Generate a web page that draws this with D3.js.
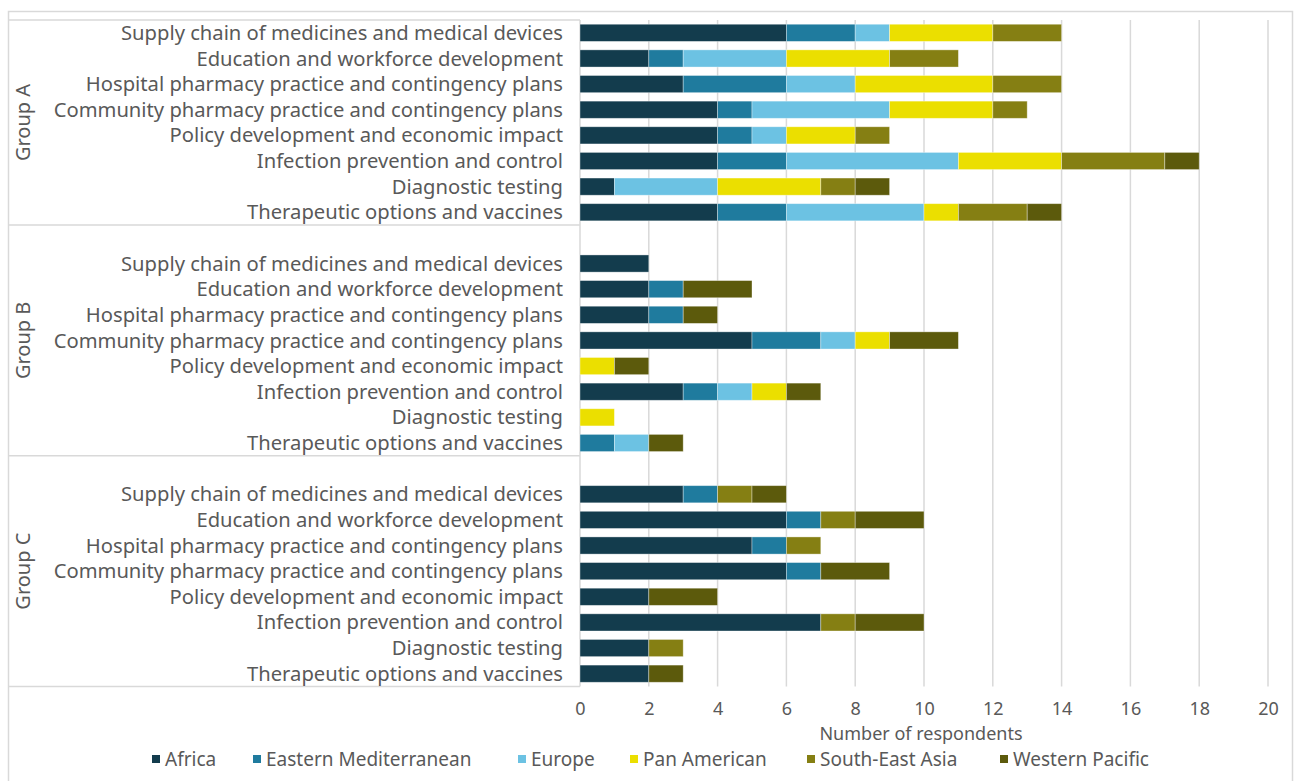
<!DOCTYPE html>
<html>
<head>
<meta charset="utf-8">
<script src="https://cdn.jsdelivr.net/npm/d3@7"></script>
<style>
  html, body { margin: 0; padding: 0; background: #fff; }
  svg text { font-family: "Liberation Sans Narrow", "Arial Narrow", "Noto Sans", sans-serif; fill: #595959; }
</style>
</head>
<body>
<svg id="chart" width="1294" height="781"></svg>
<script>
// ---------- DATA ----------
const groups = ["Group A", "Group B", "Group C"];
const topics = [
  "Supply chain of medicines and medical devices",
  "Education and workforce development",
  "Hospital pharmacy practice and contingency plans",
  "Community pharmacy practice and contingency plans",
  "Policy development and economic impact",
  "Infection prevention and control",
  "Diagnostic testing",
  "Therapeutic options and vaccines"
];
const regions = ["Africa", "Eastern Mediterranean", "Europe", "Pan American", "South-East Asia", "Western Pacific"];
const regionColors = ["#133c4d", "#1f7b9e", "#6cc2e3", "#ebdf00", "#857f13", "#5c5a0c"];

// values per topic: [Africa, Eastern Med, Europe, Pan American, SE Asia, Western Pacific]
const groupA = [
  [6, 2, 1, 3, 2, 0],
  [2, 1, 3, 3, 2, 0],
  [3, 3, 2, 4, 2, 0],
  [4, 1, 4, 3, 1, 0],
  [4, 1, 1, 2, 1, 0],
  [4, 2, 5, 3, 3, 1],
  [1, 0, 3, 3, 1, 1],
  [4, 2, 4, 1, 2, 1]
];
const groupB = [
  [2, 0, 0, 0, 0, 0],
  [2, 1, 0, 0, 0, 2],
  [2, 1, 0, 0, 0, 1],
  [5, 2, 1, 1, 0, 2],
  [0, 0, 0, 1, 0, 1],
  [3, 1, 1, 1, 0, 1],
  [0, 0, 0, 1, 0, 0],
  [0, 1, 1, 0, 0, 1]
];
const groupC = [
  [3, 1, 0, 0, 1, 1],
  [6, 1, 0, 0, 1, 2],
  [5, 1, 0, 0, 1, 0],
  [6, 1, 0, 0, 0, 2],
  [2, 0, 0, 0, 0, 2],
  [7, 0, 0, 0, 1, 2],
  [2, 0, 0, 0, 1, 0],
  [2, 0, 0, 0, 0, 1]
];
const xTicks = [0, 2, 4, 6, 8, 10, 12, 14, 16, 18, 20];
const xTitle = "Number of respondents";

// ---------- BUILD ----------
const groupValues = [groupA, groupB, groupC];
const rows = []; // slots including blank separators
groups.forEach((g, gi) => {
  if (gi > 0) rows.push({ key: g + "|blank", group: g, blank: true });
  topics.forEach((t, ti) => {
    const vals = groupValues[gi][ti];
    const r = { key: g + "|" + t, group: g, topic: t, blank: false };
    regions.forEach((reg, ri) => r[reg] = vals[ri]);
    rows.push(r);
  });
});

const svg = d3.select("#chart");
const plotLeft = 580, plotRight = 1268, plotTop = 20, plotBottom = 686.5;
const grid = "#d9d9d9";

const x = d3.scaleLinear().domain([0, 20]).range([plotLeft, plotRight]);
const y = d3.scaleBand().domain(rows.map(r => r.key)).range([plotTop, plotBottom]).paddingInner(0.33).paddingOuter(0.165);

// outer frame
svg.append("path")
  .attr("d", `M8.5,781 V11.5 H1292.5 V781`)
  .attr("fill", "none").attr("stroke", grid).attr("stroke-width", 1.5);

// gridlines
svg.append("g").selectAll("line").data(xTicks.filter(d => d > 0)).join("line")
  .attr("x1", d => x(d)).attr("x2", d => x(d))
  .attr("y1", plotTop).attr("y2", plotBottom)
  .attr("stroke", grid).attr("stroke-width", 1.5);

// group boxes
const step = y.step();
const groupBounds = groups.map(g => {
  const keys = rows.filter(r => r.group === g);
  const first = keys[0];
  const top = y(first.key) - (step * y.paddingInner()) / 2;
  return { g, top };
});
const gb = svg.append("g");
const bounds = [plotTop, ...groupBounds.slice(1).map(b => b.top), plotBottom];
gb.selectAll("line.h").data(bounds).join("line").attr("class", "h")
  .attr("x1", 8.5).attr("x2", plotLeft)
  .attr("y1", d => d).attr("y2", d => d)
  .attr("stroke", grid).attr("stroke-width", 1.5);
gb.append("line").attr("x1", plotLeft).attr("x2", plotLeft)
  .attr("y1", plotTop).attr("y2", plotBottom)
  .attr("stroke", grid).attr("stroke-width", 1.5);

// group labels
gb.selectAll("text.grp").data(groups).join("text").attr("class", "grp")
  .attr("transform", (g, i) => `translate(30,${(bounds[i] + bounds[i + 1]) / 2}) rotate(-90)`)
  .attr("text-anchor", "middle")
  .attr("font-size", 20)
  .text(d => d);

// category labels
svg.append("g").selectAll("text.cat").data(rows.filter(r => !r.blank)).join("text").attr("class", "cat")
  .attr("x", 563)
  .attr("y", r => y(r.key) + y.bandwidth() / 2)
  .attr("dy", "0.35em")
  .attr("text-anchor", "end")
  .attr("font-size", 20.2)
  .text(r => r.topic);

// stacked bars
const stack = d3.stack().keys(regions);
const series = stack(rows.filter(r => !r.blank));
svg.append("g").selectAll("g").data(series).join("g")
  .attr("fill", (s, i) => regionColors[i])
  .selectAll("rect").data(s => s.filter(d => d[1] - d[0] > 0)).join("rect")
  .attr("x", d => x(d[0]))
  .attr("width", d => x(d[1]) - x(d[0]))
  .attr("y", d => y(d.data.key))
  .attr("height", y.bandwidth())
  .attr("stroke", "#ffffff").attr("stroke-opacity", 0.45).attr("stroke-width", 0.8);

// x axis labels
const xAxis = svg.append("g").attr("transform", `translate(0,${plotBottom + 16})`)
  .call(d3.axisBottom(x).tickValues(xTicks).tickSize(0).tickPadding(0));
xAxis.select(".domain").remove();
xAxis.selectAll("text").attr("font-size", 18).attr("fill", "#595959")
  .style("font-family", "'Liberation Sans Narrow', 'Arial Narrow', 'Noto Sans', sans-serif");

svg.append("text").attr("x", (plotLeft + plotRight) / 2 - 3).attr("y", 740)
  .attr("text-anchor", "middle").attr("font-size", 18).text(xTitle);

// legend
const legendX = [152, 253, 518, 630, 807, 1000];
const lg = svg.append("g").selectAll("g").data(regions).join("g")
  .attr("transform", (d, i) => `translate(${legendX[i]},759)`);
lg.append("rect").attr("x", 0).attr("y", -4).attr("width", 8).attr("height", 8)
  .attr("fill", (d, i) => regionColors[i]);
lg.append("text").attr("x", 13).attr("y", 0).attr("dy", "0.35em")
  .attr("font-size", 19).text(d => d);
</script>
</body>
</html>
